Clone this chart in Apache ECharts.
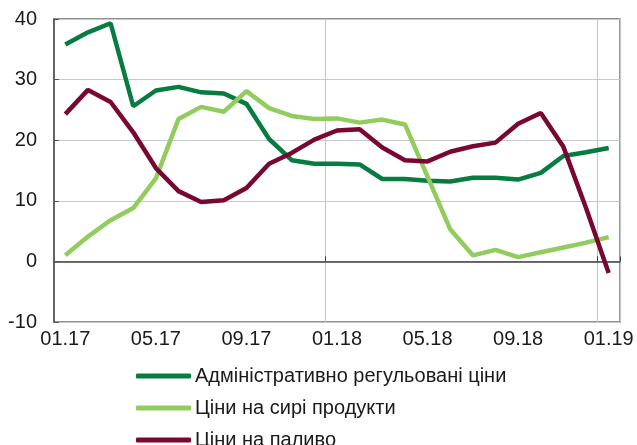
<!DOCTYPE html>
<html><head><meta charset="utf-8">
<script src="https://cdn.jsdelivr.net/npm/echarts@6/dist/echarts.min.js"></script>
<style>html,body{margin:0;padding:0;background:#fff}#c{width:637px;height:445px}</style>
</head><body><div id="c"></div>
<script>
const categories = ['01.17','02.17','03.17','04.17','05.17','06.17','07.17','08.17','09.17','10.17','11.17','12.17',
  '01.18','02.18','03.18','04.18','05.18','06.18','07.18','08.18','09.18','10.18','11.18','12.18','01.19'];
const adminPrices = [35.8,37.8,39.3,25.6,28.2,28.8,27.9,27.7,26.0,20.2,16.7,16.1,16.1,16.0,13.6,13.6,13.3,13.2,13.8,13.8,13.5,14.6,17.4,18.0,18.7];
const rawPrices = [1.0,4.1,6.8,8.8,13.7,23.5,25.5,24.7,28.1,25.3,24.0,23.5,23.6,22.9,23.4,22.6,14.0,5.3,1.0,1.9,0.7,1.5,2.3,3.1,4.0];
const fuelPrices = [24.3,28.3,26.3,21.3,15.4,11.6,9.8,10.1,12.1,16.1,17.9,20.1,21.6,21.8,18.8,16.7,16.5,18.1,19.0,19.6,22.7,24.5,18.9,8.8,-1.9];
const seriesNames = ['Адміністративно регульовані ціни','Ціни на сирі продукти','Ціни на паливо'];
const colors = ['#067c41','#92cc5e','#7a0632'];
const yTicks = {min:-10, max:40, interval:10};

const chart = echarts.init(document.getElementById('c'));
const font = 'Liberation Sans, Arial, sans-serif';
const yearMark = (i) => i === 12 || i === 24;
chart.setOption({
  animation:false,
  grid:{left:54,right:17,top:19,bottom:123,show:true,borderColor:'#6d6d6d',borderWidth:1.5},
  xAxis:[{
    type:'category', data:categories, boundaryGap:true,
    axisLine:{show:false, onZero:false},
    axisTick:{show:false},
    axisLabel:{interval:(i)=> i%4===0, color:'#1a1a1a', fontSize:20, fontFamily:font, margin:7},
    splitLine:{show:true, interval:(i)=>yearMark(i), lineStyle:{color:'#c4c9cc',width:1.2}}
  },{
    type:'category', data:categories, boundaryGap:true, position:'bottom',
    axisLine:{show:true, onZero:true, lineStyle:{color:'#404040',width:1.5}},
    axisTick:{show:true, inside:true, length:5, interval:(i)=>yearMark(i), lineStyle:{color:'#404040'}},
    axisLabel:{show:false}, splitLine:{show:false}
  }],
  yAxis:{
    type:'value', min:yTicks.min, max:yTicks.max, interval:yTicks.interval,
    axisLine:{show:true, lineStyle:{color:'#555',width:1.5}},
    axisTick:{show:true, inside:true, length:5, lineStyle:{color:'#555'}},
    axisLabel:{color:'#1a1a1a', fontSize:20, fontFamily:font, margin:17},
    splitLine:{show:true, lineStyle:{color:'#c4c9cc',width:1.2}}
  },
  legend:{
    orient:'vertical', left:136, top:366, height:120, width:480, padding:0, itemWidth:55, itemHeight:5, itemGap:12,
    icon:'roundRect',
    textStyle:{color:'#1a1a1a', fontSize:20, fontFamily:font, lineHeight:18, padding:[0,0,0,-1]},
    data:seriesNames
  },
  series:[
    {name:seriesNames[0], type:'line', data:adminPrices, color:colors[0], showSymbol:false, lineStyle:{width:4.5}},
    {name:seriesNames[1], type:'line', data:rawPrices, color:colors[1], showSymbol:false, lineStyle:{width:4.5}},
    {name:seriesNames[2], type:'line', data:fuelPrices, color:colors[2], showSymbol:false, lineStyle:{width:4.5}}
  ]
});
</script></body></html>
